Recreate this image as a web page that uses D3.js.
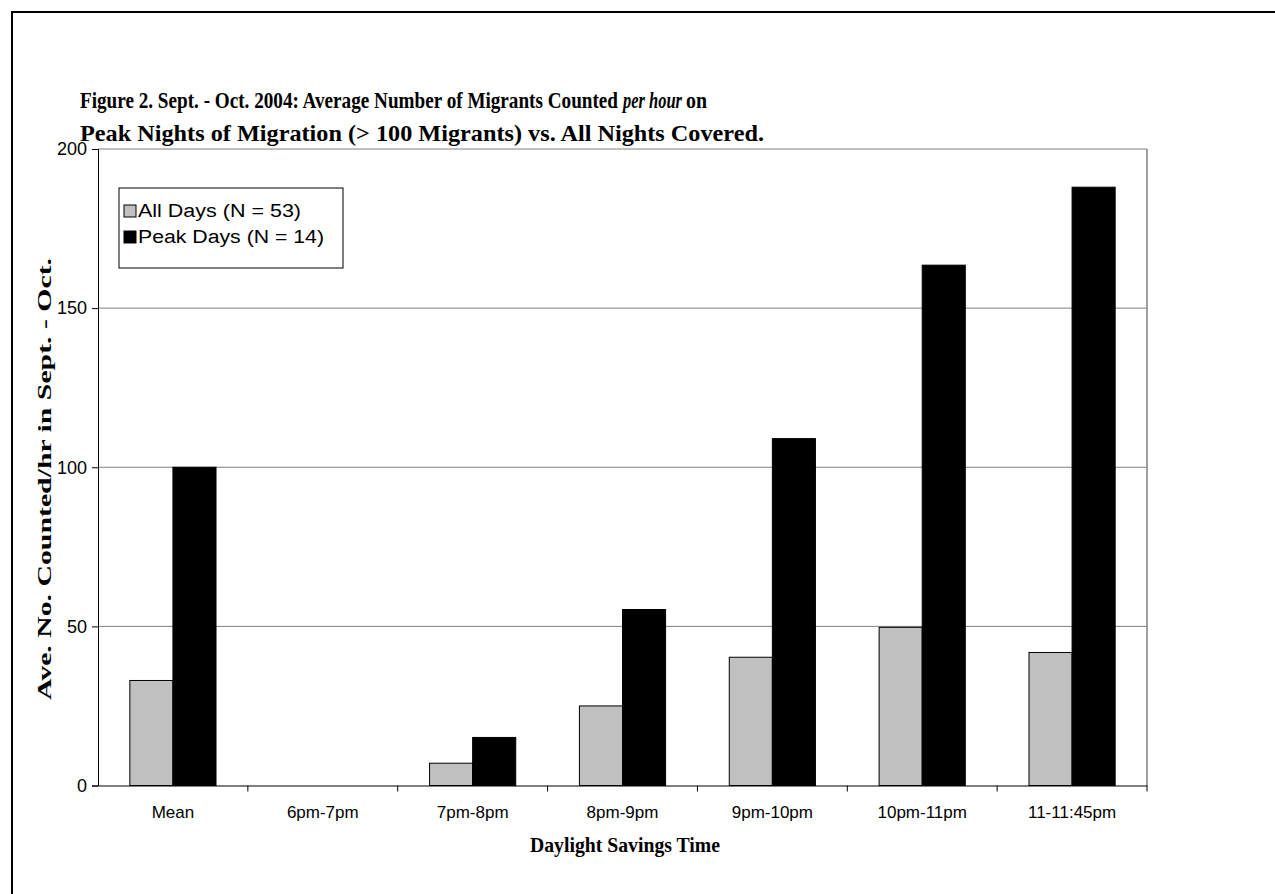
<!DOCTYPE html>
<html>
<head>
<meta charset="utf-8">
<script src="https://cdn.jsdelivr.net/npm/d3@7"></script>
<style>
  body { margin: 0; background: #fff; }
  svg { display: block; }
  .tick text { font-family: "Liberation Sans", Arial, sans-serif; font-size: 17px; fill: #000; }
</style>
</head>
<body>
<div id="chart"></div>
<script>
// data
var categories = ['Mean', '6pm-7pm', '7pm-8pm', '8pm-9pm', '9pm-10pm', '10pm-11pm', '11-11:45pm'];
var seriesNames = ['All Days (N = 53)', 'Peak Days (N = 14)'];
var allDays = [33, 0, 7, 25, 40.3, 49.7, 41.8];
var peakDays = [100, 0, 15.1, 55.3, 109, 163.5, 188];
var yTicks = [0, 50, 100, 150, 200];
var seriesColors = ['#c0c0c0', '#000000'];

var width = 1275, height = 894;
var plot = { left: 98, top: 149, right: 1147, bottom: 785.5 };
var serif = '"Liberation Serif", "Times New Roman", serif';
var sans = '"Liberation Sans", Arial, sans-serif';

var svg = d3.select('#chart').append('svg')
    .attr('width', width)
    .attr('height', height);

// outer frame (runs off the right and bottom edge)
svg.append('rect')
    .attr('x', 12).attr('y', 12)
    .attr('width', 1300).attr('height', 900)
    .attr('fill', 'none')
    .attr('stroke', '#000')
    .attr('stroke-width', 2);

// title, fitted to the widths seen in the figure
var title = svg.append('g')
    .attr('font-family', serif)
    .attr('font-weight', 'bold')
    .attr('font-size', '23px');
title.append('text').attr('x', 80).attr('y', 108)
    .attr('textLength', 538).attr('lengthAdjust', 'spacingAndGlyphs')
    .text('Figure 2.  Sept. - Oct. 2004: Average Number of Migrants Counted');
title.append('text').attr('x', 623).attr('y', 108)
    .attr('font-style', 'italic')
    .attr('textLength', 59).attr('lengthAdjust', 'spacingAndGlyphs')
    .text('per hour');
title.append('text').attr('x', 686).attr('y', 108)
    .attr('textLength', 21).attr('lengthAdjust', 'spacingAndGlyphs')
    .text('on');
title.append('text').attr('x', 80).attr('y', 141)
    .attr('textLength', 684).attr('lengthAdjust', 'spacingAndGlyphs')
    .text('Peak Nights of Migration (> 100  Migrants) vs. All Nights Covered.');

var x0 = d3.scaleBand()
    .domain(categories)
    .range([plot.left, plot.right])
    .paddingInner(0).paddingOuter(0);

var groupW = x0.bandwidth() * 0.575;
var x1 = d3.scaleBand()
    .domain([0, 1])
    .range([(x0.bandwidth() - groupW) / 2, (x0.bandwidth() + groupW) / 2]);

var y = d3.scaleLinear()
    .domain([0, 200])
    .range([plot.bottom, plot.top]);

// gridlines
svg.append('g')
    .selectAll('line')
    .data(yTicks.filter(d => d > 0))
    .enter().append('line')
    .attr('x1', plot.left).attr('x2', plot.right)
    .attr('y1', d => y(d)).attr('y2', d => y(d))
    .attr('stroke', '#808080')
    .attr('stroke-width', 1);

// plot area right border
svg.append('line')
    .attr('x1', plot.right).attr('x2', plot.right)
    .attr('y1', plot.top).attr('y2', plot.bottom)
    .attr('stroke', '#808080').attr('stroke-width', 1.5);

// bars
var rows = categories.map((c, i) => ({ cat: c, vals: [allDays[i], peakDays[i]] }));

var groups = svg.append('g').selectAll('g')
    .data(rows)
    .enter().append('g')
    .attr('transform', d => 'translate(' + x0(d.cat) + ',0)');

groups.selectAll('rect')
    .data(d => d.vals.map((v, k) => ({ k: k, v: v })))
    .enter().append('rect')
    .filter(d => d.v > 0)
    .attr('x', d => x1(d.k))
    .attr('y', d => y(d.v))
    .attr('width', x1.bandwidth())
    .attr('height', d => y(0) - y(d.v))
    .attr('fill', d => seriesColors[d.k])
    .attr('stroke', '#000')
    .attr('stroke-width', 1);

// axes
var yAxis = svg.append('g')
    .attr('transform', 'translate(' + plot.left + ',0)')
    .call(d3.axisLeft(y).tickValues(yTicks).tickSize(6).tickPadding(5).tickFormat(d3.format('d')));
yAxis.select('.domain').attr('stroke', '#000');
yAxis.selectAll('.tick text').style('font-size', '18px');

var xAxis = svg.append('g')
    .attr('transform', 'translate(0,' + plot.bottom + ')')
    .call(d3.axisBottom(x0).tickSize(0).tickPadding(20));
xAxis.select('.domain').attr('stroke', '#000');

// category boundary ticks
svg.append('g').selectAll('line')
    .data(categories)
    .enter().append('line')
    .attr('x1', d => x0(d) + x0.bandwidth())
    .attr('x2', d => x0(d) + x0.bandwidth())
    .attr('y1', plot.bottom).attr('y2', plot.bottom + 6)
    .attr('stroke', '#000');

// axis titles
svg.append('text')
    .attr('x', 530)
    .attr('y', 852)
    .attr('font-family', serif)
    .attr('font-weight', 'bold')
    .attr('font-size', '21px')
    .attr('textLength', 190).attr('lengthAdjust', 'spacingAndGlyphs')
    .text('Daylight Savings Time');

svg.append('text')
    .attr('transform', 'translate(51,700) rotate(-90)')
    .attr('font-family', serif)
    .attr('font-weight', 'bold')
    .attr('font-size', '18px')
    .attr('textLength', 442).attr('lengthAdjust', 'spacingAndGlyphs')
    .text('Ave. No. Counted/hr in Sept. - Oct.');

// legend
var legend = svg.append('g').attr('transform', 'translate(119,188)');
legend.append('rect')
    .attr('width', 224).attr('height', 80)
    .attr('fill', '#fff')
    .attr('stroke', '#000').attr('stroke-width', 1);

var legendWidths = [177, 200];

var items = legend.selectAll('g.item')
    .data(seriesNames)
    .enter().append('g')
    .attr('class', 'item')
    .attr('transform', (d, i) => 'translate(5,' + (17 + i * 26) + ')');

items.append('rect')
    .attr('width', 12).attr('height', 12)
    .attr('fill', (d, i) => seriesColors[i])
    .attr('stroke', '#000').attr('stroke-width', 1);

items.append('text')
    .attr('x', 14).attr('y', 12)
    .attr('font-family', sans)
    .attr('font-size', '18px')
    .attr('textLength', (d, i) => legendWidths[i] - 14)
    .attr('lengthAdjust', 'spacingAndGlyphs')
    .text(d => d);
</script>
</body>
</html>
